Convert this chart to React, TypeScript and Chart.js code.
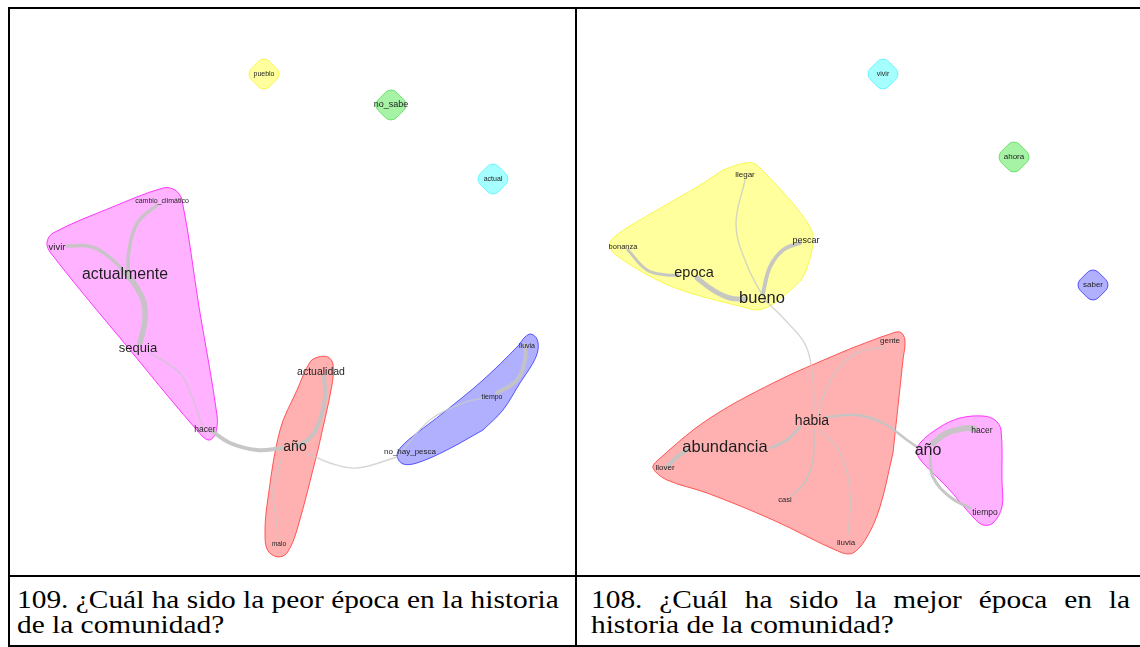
import React, { useEffect, useRef } from "react";
import { Chart, registerables } from "chart.js";

Chart.register(...registerables);

type Pt = [number, number];

// ---------- Panel 109 (left): "peor época" ----------
const leftWords = ["pueblo", "no_sabe", "actual", "cambio_climático", "vivir", "actualmente", "sequia", "hacer", "actualidad", "año", "malo", "no_hay_pesca", "tiempo", "lluvia"];
const leftWordX = [264, 391, 493, 162, 57, 125, 138, 205, 321, 295, 279, 410, 492, 527];
const leftWordY = [74, 105, 179, 201, 247, 275, 348, 430, 372, 447, 544, 452, 397, 346];
const leftWordSize = [7, 9, 7, 7, 9.5, 15.8, 13, 8.5, 10.5, 14, 6.5, 8, 7, 7];
const leftIsolated = ["pueblo", "no_sabe", "actual"];
const leftIsolatedColor = ["yellow", "green", "cyan"];

const leftEdges: Pt[][] = [
  [[67, 246], [92, 247], [115, 262], [130, 280]],
  [[157, 205], [138, 222], [129, 250], [128, 275]],
  [[130, 277], [143, 300], [145, 320], [140, 343]],
  [[150, 353], [180, 373], [193, 400], [203, 427]],
  [[212, 431], [230, 443], [257, 450], [282, 448]],
  [[324, 376], [325, 397], [320, 420], [310, 438], [297, 446]],
  [[282, 458], [273, 490], [277, 525], [278, 540]],
  [[307, 453], [330, 463], [357, 468], [397, 457]],
  [[403, 450], [430, 420], [463, 403], [483, 398]],
  [[497, 393], [517, 380], [525, 360], [525, 345]],
];
const leftEdgeWeight = [3.5, 3.5, 5.5, 1, 4, 4, 1, 0.5, 1, 4];

const leftHulls: Pt[][] = [
  [[199, 307], [217, 415], [216, 432], [210, 440], [202, 436], [130, 350], [50, 252], [47, 242], [53, 233], [110, 208], [163, 188], [175, 190], [182, 200], [199, 307]],
  [[318, 450], [297, 530], [287, 553], [278, 557], [268, 551], [265, 537], [267, 505], [280, 430], [297, 390], [310, 362], [318, 357], [328, 357], [333, 364], [332, 385], [318, 450]],
  [[483, 430], [447, 450], [417, 463], [403, 464], [397, 456], [401, 447], [417, 433], [443, 413], [483, 380], [517, 347], [525, 337], [531, 334], [537, 339], [538, 350], [533, 363], [520, 383], [503, 410], [483, 430]],
];
const leftHullColor = ["magenta", "red", "blue"];

// ---------- Panel 108 (right): "mejor época" ----------
const rightWords = ["vivir", "ahora", "saber", "llegar", "bonanza", "pescar", "epoca", "bueno", "gente", "habia", "abundancia", "llover", "casi", "lluvia", "año", "hacer", "tiempo"];
const rightWordX = [883, 1014, 1093, 745, 623, 806, 694, 762, 890, 812, 725, 665, 785, 846, 928, 982, 985];
const rightWordY = [74, 157, 285, 175, 247, 241, 273, 298, 341, 421, 447, 468, 500, 543, 451, 431, 513];
const rightWordSize = [7, 8, 8, 8, 7.5, 9, 14.5, 16.5, 8, 14, 16.5, 8, 7.5, 8, 16, 8.5, 8.5];
const rightIsolated = ["vivir", "ahora", "saber"];
const rightIsolatedColor = ["cyan", "green", "blue"];

const rightEdges: Pt[][] = [
  [[628, 250], [647, 270], [667, 275], [678, 275]],
  [[697, 278], [713, 290], [730, 298], [745, 299]],
  [[763, 293], [770, 267], [783, 250], [800, 243]],
  [[745, 180], [736, 225], [747, 265], [765, 300]],
  [[765, 300], [787, 322], [806, 346], [813, 380], [814, 410]],
  [[814, 430], [813, 460], [805, 482], [790, 497]],
  [[800, 427], [787, 440], [770, 448]],
  [[687, 450], [677, 457], [667, 467]],
  [[885, 347], [857, 353], [837, 370], [823, 397], [817, 420]],
  [[820, 430], [840, 453], [850, 493], [848, 535]],
  [[827, 417], [857, 415], [883, 423], [907, 440], [917, 447]],
  [[933, 443], [947, 433], [967, 428], [975, 429]],
  [[930, 455], [933, 477], [950, 497], [970, 508]],
];
const rightEdgeWeight = [3, 5, 4, 1, 1, 1.5, 3, 4, 1, 1, 2.5, 6, 3];

const rightHulls: Pt[][] = [
  [[723, 170], [740, 164], [753, 163], [762, 170], [790, 200], [807, 222], [813, 235], [812, 250], [803, 277], [787, 293], [770, 306], [757, 310], [743, 307], [690, 293], [657, 280], [623, 260], [610, 248], [614, 237], [657, 210], [697, 187], [723, 170]],
  [[893, 453], [880, 507], [867, 537], [853, 553], [840, 552], [773, 520], [707, 493], [667, 480], [653, 468], [658, 460], [707, 420], [773, 383], [840, 353], [873, 340], [887, 335], [900, 332], [905, 340], [903, 360], [893, 453]],
  [[1002, 480], [1002, 507], [993, 523], [983, 525], [973, 517], [947, 487], [923, 463], [917, 453], [920, 443], [940, 427], [960, 418], [983, 416], [995, 420], [1001, 430], [1002, 480]],
];
const rightHullColor = ["yellow", "red", "magenta"];

// ---------- colours ----------
const fillColors: Record<string, string> = {
  magenta: "rgba(255,0,255,0.30)",
  red: "rgba(255,0,0,0.31)",
  blue: "rgba(0,0,255,0.31)",
  yellow: "rgba(255,255,0,0.38)",
  green: "rgba(0,220,0,0.35)",
  cyan: "rgba(0,255,255,0.35)",
};
const lineColors: Record<string, string> = {
  magenta: "rgba(255,0,255,0.75)",
  red: "rgba(255,0,0,0.6)",
  blue: "rgba(0,0,255,0.6)",
  yellow: "rgba(240,240,0,0.6)",
  green: "rgba(0,200,0,0.45)",
  cyan: "rgba(0,230,255,0.45)",
};

const labelPlugin = {
  id: "wordLabels",
  afterDatasetsDraw(chart: any) {
    const ctx = chart.ctx;
    chart.data.datasets.forEach((ds: any, i: number) => {
      if (!ds.wordLabels) return;
      const meta = chart.getDatasetMeta(i);
      meta.data.forEach((el: any, j: number) => {
        ctx.save();
        ctx.font = `${ds.wordSizes[j]}px "Liberation Sans", Arial, sans-serif`;
        ctx.fillStyle = "#1e1e1e";
        ctx.textAlign = "center";
        ctx.textBaseline = "middle";
        ctx.fillText(ds.wordLabels[j], el.x, el.y);
        ctx.restore();
      });
    });
  },
};

function buildDatasets(words: string[], wx: number[], wy: number[], ws: number[], isolated: string[], isoColor: string[], edges: Pt[][], weights: number[], hulls: Pt[][], hullColor: string[]) {
  const ds: any[] = [];
  ds.push({
    label: "words",
    data: words.map((w, i) => ({ x: wx[i], y: wy[i] })),
    wordLabels: words,
    wordSizes: ws,
    showLine: false,
    pointRadius: 0,
    order: 0,
  });
  isolated.forEach((w, k) => {
    const i = words.indexOf(w);
    ds.push({
      label: "iso-" + w,
      data: [{ x: wx[i], y: wy[i] }],
      showLine: false,
      pointStyle: "rectRounded",
      rotation: 45,
      pointRadius: 15,
      pointBackgroundColor: fillColors[isoColor[k]],
      pointBorderColor: lineColors[isoColor[k]],
      pointBorderWidth: 1,
      order: 1,
    });
  });
  edges.forEach((e, k) => {
    const w = weights[k];
    ds.push({
      label: "edge" + k,
      data: e.map((p) => ({ x: p[0], y: p[1] })),
      borderColor: w <= 1 ? "rgba(200,200,200,0.75)" : "rgba(196,196,196,0.95)",
      borderWidth: w <= 1 ? 1.4 : w,
      tension: 0.4,
      pointRadius: 0,
      fill: false,
      borderCapStyle: "round",
      order: 2,
    });
  });
  hulls.forEach((h, k) => {
    ds.push({
      label: "hull" + k,
      data: h.map((p) => ({ x: p[0], y: p[1] })),
      borderColor: lineColors[hullColor[k]],
      backgroundColor: fillColors[hullColor[k]],
      borderWidth: 1,
      tension: 0.35,
      pointRadius: 0,
      fill: "shape",
      order: 3,
    });
  });
  return ds;
}

function Graph(props: { left: number; top: number; width: number; height: number; datasets: any[] }) {
  const ref = useRef<HTMLCanvasElement>(null);
  useEffect(() => {
    const { left, top, width, height } = props;
    const chart = new Chart(ref.current!, {
      type: "line",
      data: { datasets: props.datasets },
      options: {
        animation: false,
        responsive: false,
        devicePixelRatio: 1,
        events: [],
        layout: { padding: 0, autoPadding: false },
        plugins: { legend: { display: false }, tooltip: { enabled: false } },
        scales: {
          x: { type: "linear", min: left, max: left + width, display: false },
          y: { type: "linear", min: top, max: top + height, reverse: true, display: false },
        },
      },
      plugins: [labelPlugin],
    } as any);
    return () => chart.destroy();
  }, []);
  return (
    <canvas
      ref={ref}
      width={props.width}
      height={props.height}
      style={{ position: "absolute", left: props.left, top: props.top, width: props.width, height: props.height }}
    />
  );
}

const captionLeft = ["109. ¿Cuál ha sido la peor época en la historia", "de la comunidad?"];
const captionRight = ["108. ¿Cuál ha sido la mejor época en la", "historia de la comunidad?"];

const capFont = '"Liberation Serif", "Times New Roman", serif';
const capSize = 26;
const capScale = 1.13;

function CapLine(props: { text: string; x: number; y: number; width: number; justify?: boolean }) {
  return (
    <div
      style={{
        position: "absolute",
        left: props.x,
        top: props.y,
        width: props.width / capScale,
        fontFamily: capFont,
        fontSize: capSize,
        lineHeight: "25px",
        whiteSpace: "nowrap",
        color: "#000",
        textAlign: props.justify ? "justify" : "left",
        textAlignLast: props.justify ? "justify" : "left",
        transform: `scaleX(${capScale})`,
        transformOrigin: "0 0",
      } as any}
    >
      {props.text}
    </div>
  );
}

const line = (l: number, t: number, w: number, h: number) => (
  <div style={{ position: "absolute", left: l, top: t, width: w, height: h, background: "#000" }} />
);

export default function App() {
  const leftDs = buildDatasets(leftWords, leftWordX, leftWordY, leftWordSize, leftIsolated, leftIsolatedColor, leftEdges, leftEdgeWeight, leftHulls, leftHullColor);
  const rightDs = buildDatasets(rightWords, rightWordX, rightWordY, rightWordSize, rightIsolated, rightIsolatedColor, rightEdges, rightEdgeWeight, rightHulls, rightHullColor);
  return (
    <div style={{ position: "fixed", left: 0, top: 0, width: 1140, height: 647, background: "#fff", overflow: "hidden" }}>
      <Graph left={10} top={9} width={565} height={566} datasets={leftDs} />
      <Graph left={577} top={9} width={563} height={566} datasets={rightDs} />
      {line(8, 7, 1132, 2)}
      {line(8, 7, 2, 640)}
      {line(575, 7, 2, 640)}
      {line(8, 575, 1132, 2)}
      {line(8, 645, 1132, 2)}
      <CapLine text={captionLeft[0]} x={17} y={587} width={560} />
      <CapLine text={captionLeft[1]} x={17} y={612} width={560} />
      <CapLine text={captionRight[0]} x={591} y={587} width={539} justify />
      <CapLine text={captionRight[1]} x={591} y={612} width={539} />
    </div>
  );
}
